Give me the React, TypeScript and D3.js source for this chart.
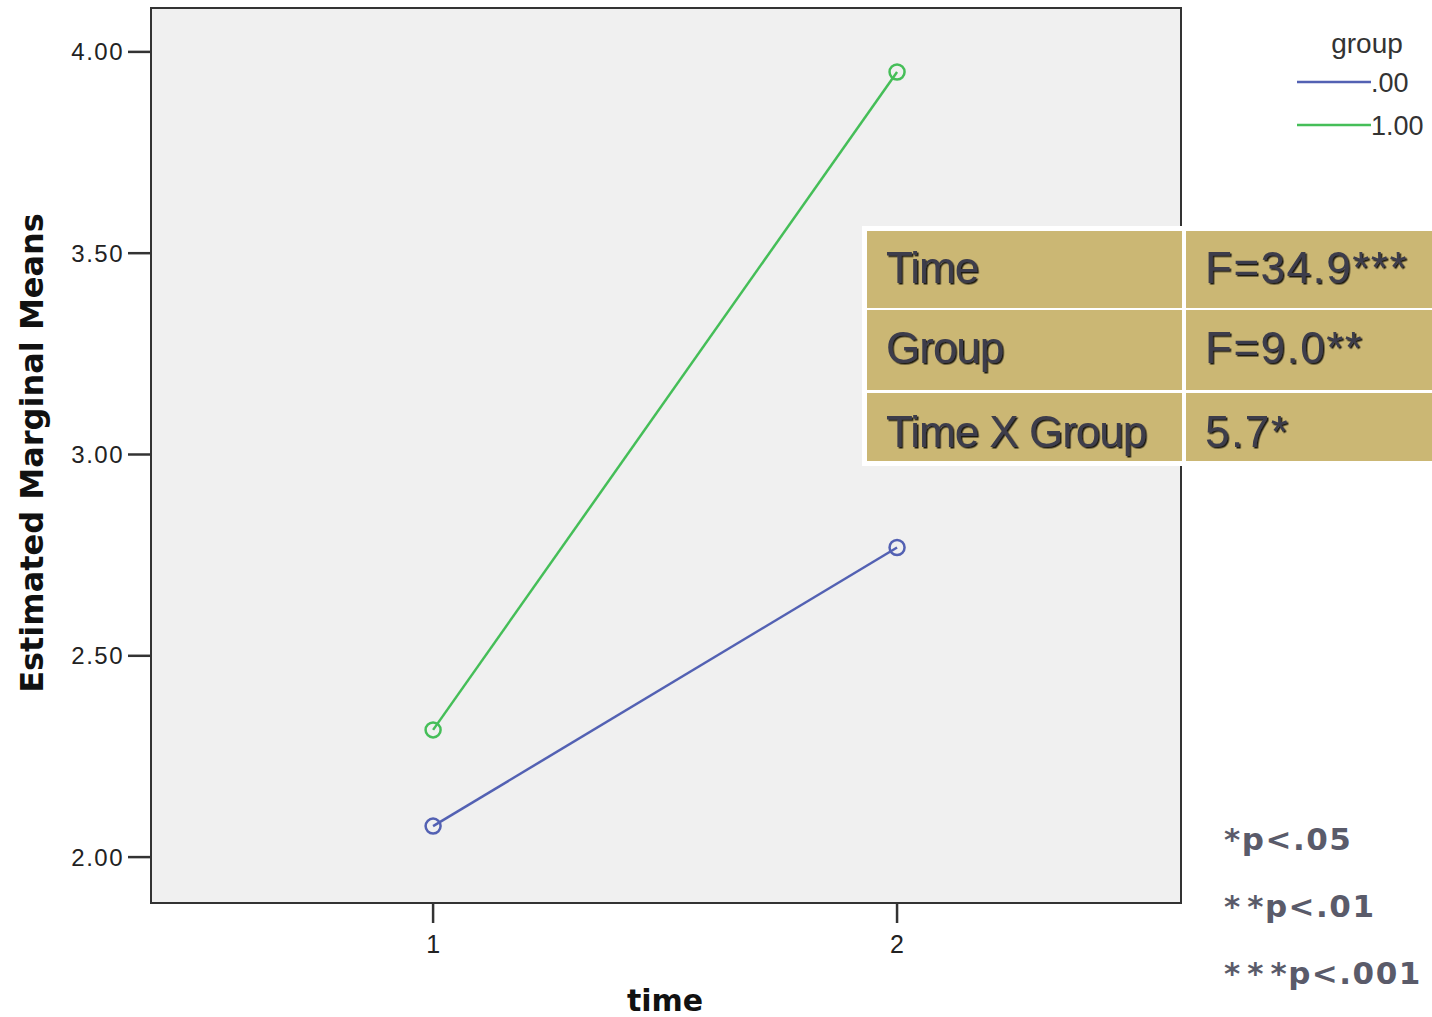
import * as d3 from "d3";

const times = [1, 2];
const groups = [".00", "1.00"];
const groupColors = ["#5361b3", "#45be58"];
const meansGroup0 = [2.077, 2.769];
const meansGroup1 = [2.316, 3.95];
const yTicks = [2.0, 2.5, 3.0, 3.5, 4.0];

const tableRows = ["Time", "Group", "Time X Group"];
const tableValues = ["F=34.9***", "F=9.0**", "5.7*"];
const pNotes = ["*p<.05", "**p<.01", "***p<.001"];

const W = 1432;
const H = 1017;
const plot = { left: 151, right: 1181, top: 8, bottom: 903 };

export default function App() {
  const x = d3.scaleLinear().domain([0.392, 2.612]).range([plot.left, plot.right]);
  const y = d3.scaleLinear().domain([1.886, 4.109]).range([plot.bottom, plot.top]);
  const line = d3
    .line<number>()
    .x((_, i) => x(times[i]))
    .y((d) => y(d));

  const series = [meansGroup0, meansGroup1];
  const tickFont = "'Liberation Sans', Arial, sans-serif";
  const boldFont = "'DejaVu Sans', Verdana, sans-serif";

  // table rows: top, height, text baseline
  const rowTops = [231, 310, 393];
  const rowH = [77, 80, 68];
  const rowBase = [283, 363, 447];

  return (
    <svg
      width={W}
      height={H}
      style={{ position: "absolute", left: 0, top: 0, background: "#fff" }}
    >
      <defs>
        <filter id="sh" x="-5%" y="-5%" width="110%" height="120%">
          <feDropShadow dx="1.5" dy="1.5" stdDeviation="0.4" floodColor="#000" floodOpacity="0.85" />
        </filter>
      </defs>
      {/* plot area */}
      <rect
        x={plot.left}
        y={plot.top}
        width={plot.right - plot.left}
        height={plot.bottom - plot.top}
        fill="#f0f0f0"
        stroke="#333"
        strokeWidth={2}
      />
      {/* y axis */}
      {yTicks.map((t) => (
        <g key={t}>
          <line x1={plot.left - 23} x2={plot.left} y1={y(t)} y2={y(t)} stroke="#333" strokeWidth={2.5} />
          <text
            x={124}
            y={y(t) + 8.5}
            textAnchor="end"
            fontFamily={tickFont}
            fontSize={24}
            letterSpacing={1.5}
            fill="#222"
          >
            {t.toFixed(2)}
          </text>
        </g>
      ))}
      {/* x axis */}
      {times.map((t) => (
        <g key={t}>
          <line x1={x(t)} x2={x(t)} y1={plot.bottom} y2={plot.bottom + 20} stroke="#333" strokeWidth={2.5} />
          <text x={x(t)} y={953} textAnchor="middle" fontFamily={tickFont} fontSize={25} fill="#222">
            {t}
          </text>
        </g>
      ))}
      <text
        x={665}
        y={1011}
        textAnchor="middle"
        fontFamily={boldFont}
        fontWeight="bold"
        fontSize={30}
        fill="#111"
      >
        time
      </text>
      <text
        transform={`translate(43,453) rotate(-90)`}
        textAnchor="middle"
        fontFamily={boldFont}
        fontWeight="bold"
        fontSize={32}
        fill="#111"
      >
        Estimated Marginal Means
      </text>

      {/* lines */}
      {series.map((s, gi) => (
        <g key={gi}>
          <path d={line(s) ?? ""} fill="none" stroke={groupColors[gi]} strokeWidth={2.5} />
          {s.map((v, i) => (
            <circle
              key={i}
              cx={x(times[i])}
              cy={y(v)}
              r={7.5}
              fill="none"
              stroke={groupColors[gi]}
              strokeWidth={2.5}
            />
          ))}
        </g>
      ))}

      {/* legend */}
      <text x={1367} y={53} textAnchor="middle" fontFamily={tickFont} fontSize={28} fill="#333">
        group
      </text>
      {groups.map((g, i) => (
        <g key={g}>
          <line x1={1297} x2={1371} y1={82 + i * 43} y2={82 + i * 43} stroke={groupColors[i]} strokeWidth={2.5} />
          <text x={1371} y={92 + i * 43} fontFamily={tickFont} fontSize={27} fill="#333">
            {g}
          </text>
        </g>
      ))}

      {/* stats table */}
      <rect x={862} y={226} width={W - 862} height={240} fill="#fff" />
      {tableRows.map((r, i) => (
        <g key={r}>
          <rect x={867} y={rowTops[i]} width={315} height={rowH[i]} fill="#cbb774" />
          <rect x={1186} y={rowTops[i]} width={W - 1186} height={rowH[i]} fill="#cbb774" />
          <text
            x={886}
            y={rowBase[i]}
            fontFamily={tickFont}
            fontSize={44}
            letterSpacing={-1}
            fill="#3c3c4c"
            filter="url(#sh)"
          >
            {r}
          </text>
          <text
            x={1205}
            y={rowBase[i]}
            fontFamily={tickFont}
            fontSize={44}
            letterSpacing={1.5}
            fill="#3c3c4c"
            filter="url(#sh)"
          >
            {tableValues[i]}
          </text>
        </g>
      ))}

      {/* significance notes */}
      {pNotes.map((p, i) => {
        const stars = p.match(/^\*+/)?.[0] ?? "";
        return (
          <text
            key={p}
            x={1224}
            y={850 + i * 67}
            fontFamily={boldFont}
            fontWeight="bold"
            fontSize={31}
            letterSpacing={1.5}
            fill="#5a5b6a"
          >
            {stars.length > 1 && <tspan letterSpacing={7}>{stars.slice(1)}</tspan>}
            <tspan>{"*" + p.slice(stars.length)}</tspan>
          </text>
        );
      })}
    </svg>
  );
}
